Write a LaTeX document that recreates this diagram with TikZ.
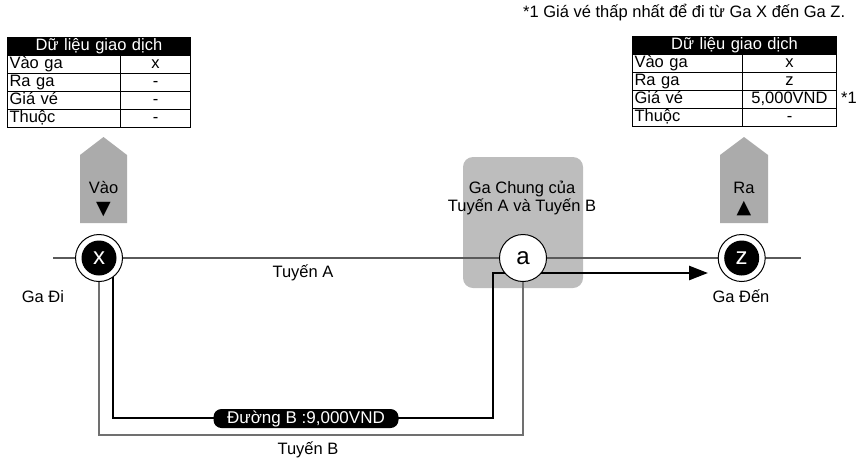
\documentclass[tikz,border=0pt]{standalone}
\usepackage{fontspec}
\setmainfont{Liberation Sans}
\newfontfamily\symfont{DejaVu Sans}
\usetikzlibrary{arrows.meta}
\definecolor{arrowgray}{HTML}{ABABAB}
\definecolor{boxgray}{HTML}{BDBDBD}
\definecolor{lineA}{HTML}{5A5A5A}
\definecolor{lineB}{HTML}{707070}
\begin{document}
\begin{tikzpicture}[x=1pt,y=-1pt,
  every node/.style={font=\fontsize{16.5}{18}\selectfont, inner sep=0pt},
  hdr/.style={draw=black, line width=1pt, fill=black, text=white, anchor=north west,
    minimum height=18pt, text height=12pt, text depth=3.5pt},
  cellL/.style={draw=black, line width=1pt, fill=white, anchor=north west, align=left,
    minimum height=18pt, text height=12pt, text depth=3.5pt, inner xsep=2pt},
  cellR/.style={draw=black, line width=1pt, fill=white, anchor=north west, align=center,
    minimum height=18pt, text height=12pt, text depth=3.5pt},
  outerring/.style={circle, draw=black, line width=1pt, fill=white, minimum size=47pt},
  innerdot/.style={circle, fill=black, text=white, minimum size=35pt, font=\fontsize{24}{26}\selectfont},
  bigarrow/.style={fill=arrowgray, draw=none},
  lbl/.style={font=\fontsize{16.5}{18}\selectfont},
  tri/.style={font=\symfont\fontsize{19}{20}\selectfont},
  routeB/.style={line width=2.6pt, black},
]
\useasboundingbox (0,0) rectangle (856,461);

% footnote
\node[lbl, anchor=west] (foot) at (523,13) {*1 Giá vé thấp nhất để đi từ Ga X đến Ga Z.};

% left table
\node[hdr, minimum width=183pt, text width=183pt, align=center] (lh) at (7,37) {Dữ liệu giao dịch};
\node[cellL, text width=109pt] (l1a) at (7,55) {Vào ga};
\node[cellR, minimum width=70pt] (l1b) at (120,55) {x};
\node[cellL, text width=109pt] (l2a) at (7,73) {Ra ga};
\node[cellR, minimum width=70pt] (l2b) at (120,73) {-};
\node[cellL, text width=109pt] (l3a) at (7,91) {Giá vé};
\node[cellR, minimum width=70pt] (l3b) at (120,91) {-};
\node[cellL, text width=109pt] (l4a) at (7,109) {Thuộc};
\node[cellR, minimum width=70pt] (l4b) at (120,109) {-};

% right table
\node[hdr, minimum width=204pt, text width=204pt, align=center] (rh) at (632,36) {Dữ liệu giao dịch};
\node[cellL, text width=106pt] (r1a) at (632,54) {Vào ga};
\node[cellR, minimum width=94pt] (r1b) at (742,54) {x};
\node[cellL, text width=106pt] (r2a) at (632,72) {Ra ga};
\node[cellR, minimum width=94pt] (r2b) at (742,72) {z};
\node[cellL, text width=106pt] (r3a) at (632,90) {Giá vé};
\node[cellR, minimum width=94pt] (r3b) at (742,90) {5,000VND};
\node[cellL, text width=106pt] (r4a) at (632,108) {Thuộc};
\node[cellR, minimum width=94pt] (r4b) at (742,108) {-};
\node[lbl, anchor=west] (star) at (841,98) {*1};

% gray arrows
\fill[bigarrow] (80,223) -- (80,155) -- (103.5,137) -- (127,155) -- (127,223) -- cycle;
\node[lbl] (vao) at (103.5,188) {Vào};
\node[tri] (vaotri) at (103.5,210) {▼};
\fill[bigarrow] (720,223) -- (720,155) -- (744,137) -- (768,155) -- (768,223) -- cycle;
\node[lbl] (ra) at (744,188) {Ra};
\node[tri] (ratri) at (744,209) {▲};

% common station box
\node[fill=boxgray, rounded corners=10pt, minimum width=120pt, minimum height=131pt] (common) at (523,222.5) {};
\node[lbl, align=center] (commontxt) at (522,198) {Ga Chung của\\Tuyến A và Tuyến B};

% coordinates
\coordinate (Astart) at (53,258);
\coordinate (Aend) at (801,258);
\coordinate (X) at (99,258);
\coordinate (A) at (523,258);
\coordinate (Z) at (741.7,258);
\coordinate (bl) at (99,435);
\coordinate (br) at (523,435);
\coordinate (t0) at (113,258);
\coordinate (t1) at (113,418);
\coordinate (t2) at (493,418);
\coordinate (t3) at (493,273);
\coordinate (t4) at (708,273);

% line A
\draw[lineA, line width=1.3pt] (Astart) -- (Aend);
% line B
\draw[lineB, line width=1.2pt] (X) -- (bl) -- (br) -- (A);
% route
\draw[routeB, -{Triangle[length=19pt,width=14pt]}] (t0) -- (t1) -- (t2) -- (t3) -- (t4);

% stations
\node[outerring] (Xr) at (X) {};
\node[innerdot] (Xd) at (X) {x};
\node[outerring, font=\fontsize{24}{26}\selectfont] (Ar) at (A) {a};
\node[outerring] (Zr) at (Z) {};
\node[innerdot] (Zd) at (Z) {z};

% labels
\node[lbl] (tuyenA) at (303,273) {Tuyến A};
\node[lbl] (tuyenB) at (308,450) {Tuyến B};
\node[lbl] (gadi) at (43,297) {Ga Đi};
\node[lbl] (gaden) at (741,296) {Ga Đến};
\node[fill=black, text=white, rounded corners=8pt, minimum width=185pt, minimum height=19pt,
  font=\fontsize{17}{18}\selectfont] (pill) at (306,418.5) {Đường B :9,000VND};
\end{tikzpicture}
\end{document}
